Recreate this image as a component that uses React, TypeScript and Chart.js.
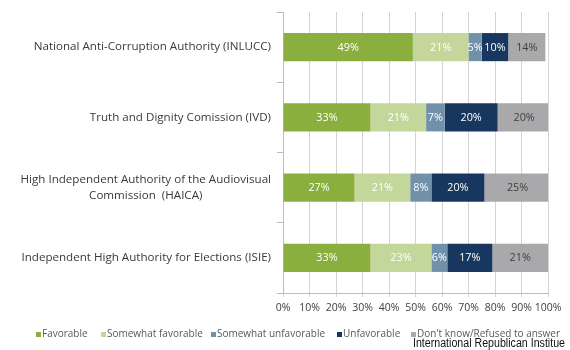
import React, { useEffect, useRef } from "react";
import { Chart, registerables } from "chart.js";

Chart.register(...registerables);

const categories: string[][] = [
  ["National Anti-Corruption Authority (INLUCC)"],
  ["Truth and Dignity Comission (IVD)"],
  ["High Independent Authority of the Audiovisual", "Commission  (HAICA)"],
  ["Independent High Authority for Elections (ISIE)"],
];
const seriesNames = [
  "Favorable",
  "Somewhat favorable",
  "Somewhat unfavorable",
  "Unfavorable",
  "Don't know/Refused to answer",
];
const favorable = [49, 33, 27, 33];
const somewhatFavorable = [21, 21, 21, 23];
const somewhatUnfavorable = [5, 7, 8, 6];
const unfavorable = [10, 20, 20, 17];
const dontKnow = [14, 20, 25, 21];
const xTickValues = [0, 10, 20, 30, 40, 50, 60, 70, 80, 90, 100];
const sourceText = "International Republican Institue";

const colors = ["#8BAF3F", "#C4D79B", "#7191AA", "#17375E", "#A9A9AC"];
const labelColors = ["#ffffff", "#ffffff", "#ffffff", "#ffffff", "#404040"];
const legendX = [36, 101, 211, 337, 411];
const FONT = "'Open Sans', 'DejaVu Sans', sans-serif";

export default function App() {
  const ref = useRef<HTMLCanvasElement | null>(null);
  useEffect(() => {
    const canvas = ref.current;
    if (!canvas) return;
    const values = [favorable, somewhatFavorable, somewhatUnfavorable, unfavorable, dontKnow];

    const customPlugin = {
      id: "custom",
      afterDatasetsDraw(chart: any) {
        const ctx = chart.ctx;
        ctx.save();
        ctx.font = `10.8px ${FONT}`;
        ctx.textAlign = "center";
        ctx.textBaseline = "middle";
        chart.data.datasets.forEach((ds: any, di: number) => {
          const meta = chart.getDatasetMeta(di);
          meta.data.forEach((bar: any, i: number) => {
            const x = (bar.x + bar.base) / 2;
            ctx.fillStyle = labelColors[di];
            ctx.fillText(ds.data[i] + "%", x, bar.y + 0.5);
          });
        });
        ctx.restore();
      },
      afterDraw(chart: any) {
        const ctx = chart.ctx;
        const yScale = chart.scales.y;
        ctx.save();
        // category labels
        ctx.font = `11.6px ${FONT}`;
        ctx.fillStyle = "#3a3a3a";
        ctx.textAlign = "center";
        ctx.textBaseline = "middle";
        const rightEdge = yScale.right - 12;
        categories.forEach((lines, i) => {
          const yc = yScale.getPixelForTick(i);
          const maxW = Math.max(...lines.map((l) => ctx.measureText(l).width));
          const lh = 16;
          lines.forEach((l, li) => {
            const y = yc + (li - (lines.length - 1) / 2) * lh;
            ctx.fillText(l, rightEdge - maxW / 2, y);
          });
        });
        // legend
        ctx.font = `10px ${FONT}`;
        ctx.textAlign = "left";
        seriesNames.forEach((name, i) => {
          const mx = legendX[i];
          ctx.fillStyle = colors[i];
          ctx.fillRect(mx, 332, 5, 5);
          ctx.fillStyle = "#595959";
          ctx.fillText(name, mx + 6, 334.5);
        });
        // source text
        ctx.font = `12.5px 'Liberation Sans Narrow', 'Liberation Sans', Arial, sans-serif`;
        ctx.fillStyle = "#111111";
        ctx.textBaseline = "alphabetic";
        const w = ctx.measureText(sourceText).width;
        const target = 152;
        const sx = target / w;
        ctx.translate(413, 347);
        ctx.scale(sx, 1);
        ctx.textAlign = "left";
        ctx.fillText(sourceText, 0, 0);
        ctx.restore();
      },
    };

    const chart = new Chart(canvas, {
      type: "bar",
      data: {
        labels: categories.map((c) => c.join(" ")),
        datasets: seriesNames.map((name, i) => ({
          label: name,
          data: values[i],
          backgroundColor: colors[i],
          borderWidth: 0,
          barPercentage: 0.4,
          categoryPercentage: 1,
        })),
      },
      options: {
        indexAxis: "y",
        responsive: false,
        animation: false,
        layout: { padding: { top: 12, right: 22, bottom: 0, left: 0 } },
        plugins: {
          legend: { display: false },
          tooltip: { enabled: false },
        },
        scales: {
          x: {
            stacked: true,
            min: 0,
            max: 100,
            afterBuildTicks: (scale: any) => {
              scale.ticks = xTickValues.map((v) => ({ value: v }));
            },
            afterFit: (scale: any) => {
              scale.height = 57;
            },
            grid: {
              color: "#d4d4d4",
              tickLength: 4,
              drawTicks: true,
            },
            border: { color: "#bdbdbd" },
            ticks: {
              padding: 5,
              autoSkip: false,
              color: "#404040",
              font: { family: FONT, size: 10.5 },
              maxRotation: 0,
              minRotation: 0,
              callback: (v: any) => v + "%",
            },
          },
          y: {
            stacked: true,
            afterFit: (scale: any) => {
              scale.width = 283;
            },
            grid: {
              drawOnChartArea: false,
              drawTicks: true,
              tickLength: 6,
              color: "#bdbdbd",
              offset: true,
            },
            border: { color: "#bdbdbd" },
            ticks: { display: false },
          },
        },
      },
      plugins: [customPlugin],
    } as any);
    return () => chart.destroy();
  }, []);

  return (
    <div style={{ position: "absolute", left: 0, top: 0, width: 570, height: 350, background: "#fff" }}>
      <canvas ref={ref} width={570} height={350} style={{ display: "block" }} />
    </div>
  );
}
